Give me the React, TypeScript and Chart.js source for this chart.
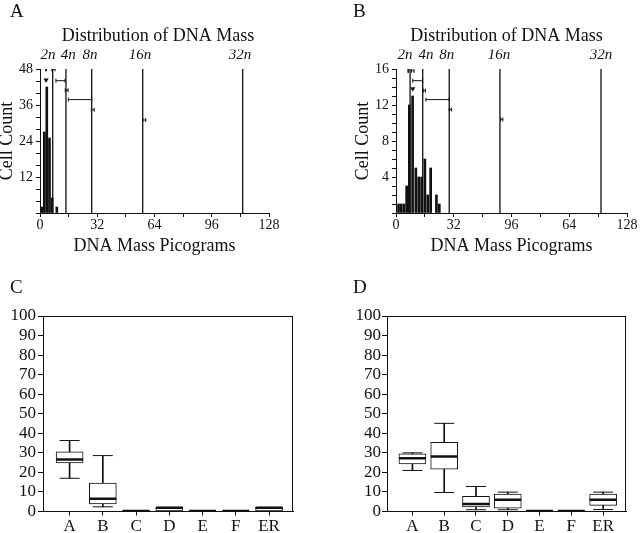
import React, { useEffect, useRef } from 'react';
import { Chart, registerables } from 'chart.js';
Chart.register(...registerables);

const FONT = "'Liberation Serif', 'Times New Roman', serif";
const INK = '#111';
Chart.defaults.font.family = FONT;
Chart.defaults.color = INK;

// ---------- Panel A : histogram ----------
const histA_x = [1.0, 2.4, 3.8, 5.3, 6.8, 9.4];
const histA_count = [2, 27, 42, 25, 5, 2];
const ploidyA = [7.1, 14.5, 28.9, 57.4, 113.3];
const ploidyLabelPosA = [4.5, 15.8, 28.0, 55.9, 111.8];
const errA_lo = [3.2, 6.6, 8.9, 14.1, 15.8, 28.7, 57.5];
const errA_hi = [3.6, 8.4, 14.0, 15.7, 28.9, 30.3, 59.1];
const errA_y = [47.9, 47.9, 44.1, 40.9, 37.8, 34.4, 31.0];
const peakA_x = [3.4];
const peakA_y = [44.3];

// ---------- Panel B : histogram ----------
const histB_x = [1.4, 2.9, 4.4, 5.9, 7.4, 9.2, 11.0, 12.6, 14.2, 16.0, 17.6, 19.2, 22.4, 24.0];
const histB_count = [1, 1, 1, 3, 12, 13, 5, 4, 4, 6, 2, 5, 2, 1];
const ploidyB = [7.8, 14.8, 29.5, 57.6, 113.6];
const ploidyLabelPosB = [5.0, 16.6, 28.1, 57.1, 113.6];
const errB_lo = [6.6, 8.5, 9.3, 15.1, 16.6, 29.5, 58.0];
const errB_hi = [7.0, 10.0, 14.8, 16.3, 29.5, 30.7, 59.2];
const errB_y = [15.8, 15.8, 14.7, 13.6, 12.6, 11.5, 10.4];
const peakB_x = [9.3];
const peakB_y = [13.8];

const ploidyLabels = ['2n', '4n', '8n', '16n', '32n'];
const xLabelsA = ['0', '32', '64', '96', '128'];
const xLabelsB = ['0', '32', '96', '64', '128'];

// ---------- Panels C, D : box plots ----------
const boxCats = ['A', 'B', 'C', 'D', 'E', 'F', 'ER'];
const C_min = [17.0, 2.4, 0.0, 0.0, 0.3, 0.3, 0.0];
const C_q1 = [24.9, 3.9, 0.2, 0.3, 0.3, 0.3, 0.3];
const C_med = [26.6, 6.5, 0.3, 1.9, 0.3, 0.3, 1.9];
const C_q3 = [30.5, 14.5, 0.5, 2.1, 0.3, 0.3, 2.1];
const C_max = [36.3, 28.6, 0.5, 2.1, 0.3, 0.3, 2.1];

const D_min = [21.0, 9.7, 0.9, 0.9, 0.3, 0.3, 1.0];
const D_q1 = [24.4, 21.6, 2.4, 1.7, 0.3, 0.3, 3.1];
const D_med = [27.3, 28.1, 3.9, 6.0, 0.3, 0.3, 6.0];
const D_q3 = [29.5, 35.4, 7.7, 8.9, 0.3, 0.3, 8.9];
const D_max = [30.0, 45.1, 12.8, 9.9, 0.3, 0.3, 9.9];

function histConfig(o: any) {
  const yTop = o.yMax;
  return {
    type: 'bar',
    data: {
      datasets: [
        {
          type: 'bar',
          data: o.xs.map((x: number, i: number) => ({ x, y: o.counts[i] })),
          backgroundColor: INK,
          barThickness: 2,
          order: 3,
        },
        {
          type: 'line',
          data: o.ploidy.flatMap((p: number) => [
            { x: p, y: 0 },
            { x: p, y: yTop },
            { x: p, y: null },
          ]),
          borderColor: INK,
          borderWidth: 1.3,
          pointRadius: 0,
          spanGaps: false,
          order: 2,
        },
        {
          type: 'line',
          data: o.errLo.flatMap((lo: number, i: number) => [
            { x: lo, y: o.errY[i] },
            { x: o.errHi[i], y: o.errY[i] },
            { x: o.errHi[i], y: null },
          ]),
          borderColor: INK,
          borderWidth: 1,
          pointStyle: 'line',
          pointRotation: 90,
          pointRadius: 2,
          pointBorderWidth: 1,
          pointBorderColor: INK,
          spanGaps: false,
          order: 1,
        },
        {
          type: 'line',
          data: o.peakX.map((x: number, i: number) => ({ x, y: o.peakY[i] })),
          showLine: false,
          pointStyle: 'triangle',
          pointRotation: 180,
          pointRadius: 3,
          pointBackgroundColor: INK,
          pointBorderColor: INK,
          pointBorderWidth: 0,
          order: 0,
        },
      ],
    },
    options: {
      responsive: false,
      animation: false,
      events: [],
      layout: { padding: 0 },
      plugins: {
        legend: { display: false },
        tooltip: { enabled: false },
        title: {
          display: true,
          text: 'Distribution of DNA Mass',
          color: INK,
          font: { size: 18, weight: 'normal' },
          padding: { top: 25, bottom: 3 },
        },
      },
      scales: {
        x: {
          type: 'linear',
          position: 'bottom',
          min: 0,
          max: 128,
          offset: false,
          afterFit: (s: any) => { s.height = 49; },
          grid: { display: true, drawOnChartArea: false, offset: false, tickLength: 4, color: INK },
          border: { display: true, color: INK, width: 1 },
          ticks: {
            stepSize: 16,
            autoSkip: false,
            maxRotation: 0,
            padding: 0,
            color: INK,
            font: { size: 14 },
            callback: (v: any) => (v % 32 === 0 ? o.xLabels[v / 32] : ''),
          },
          title: {
            display: true,
            text: 'DNA Mass Picograms',
            color: INK,
            font: { size: 18 },
            padding: { top: 0, bottom: 5 },
          },
        },
        x2: {
          type: 'linear',
          position: 'top',
          min: 0,
          max: 128,
          offset: false,
          afterFit: (s: any) => { s.height = 19.4; },
          afterBuildTicks: (s: any) => { s.ticks = o.labelPos.map((v: number) => ({ value: v })); },
          grid: { display: false, drawTicks: false, offset: false },
          border: { display: false },
          ticks: {
            autoSkip: false,
            maxRotation: 0,
            padding: 5,
            color: INK,
            font: { size: 15, style: 'italic' },
            callback: (_v: any, i: number) => ploidyLabels[i],
          },
        },
        y: {
          type: 'linear',
          position: 'left',
          min: 0,
          max: o.yMax,
          afterFit: (s: any) => { s.width = 42; },
          grid: { display: true, drawOnChartArea: false, tickLength: 4, color: INK },
          border: { display: true, color: INK, width: 1 },
          ticks: {
            stepSize: o.yStep,
            autoSkip: false,
            padding: 3,
            color: INK,
            font: { size: 14 },
            callback: (v: any) => (v !== 0 && v % o.yLabelEvery === 0 ? String(v) : ''),
          },
          title: {
            display: true,
            text: 'Cell Count',
            color: INK,
            font: { size: 18, lineHeight: 1 },
            padding: { top: 0, bottom: 0 },
          },
        },
        ySpace: {
          type: 'linear',
          position: 'right',
          min: 0,
          max: 1,
          afterFit: (s: any) => { s.width = o.rightSpace; },
          grid: { display: false, drawTicks: false },
          border: { display: false },
          ticks: { display: false },
        },
      },
    },
  };
}

const framePlugin = {
  id: 'frame',
  afterDraw(chart: any) {
    const { ctx, chartArea: a } = chart;
    ctx.save();
    ctx.strokeStyle = INK;
    ctx.lineWidth = 1;
    ctx.strokeRect(Math.round(a.left) + 0.5, Math.round(a.top) + 0.5, Math.round(a.right - a.left) - 1, Math.round(a.bottom - a.top) - 1);
    ctx.restore();
  },
};

function boxConfig(o: any) {
  const pts = (arr: number[]) => arr.map((v, i) => ({ x: i, y: v }));
  return {
    type: 'bar',
    data: {
      datasets: [
        {
          type: 'bar',
          data: o.min.map((v: number, i: number) => ({ x: i, y: [v, o.max[i]] })),
          backgroundColor: INK,
          barThickness: 1,
          grouped: false,
          order: 4,
        },
        {
          type: 'bar',
          data: o.q1.map((v: number, i: number) => ({ x: i, y: [v, o.q3[i]] })),
          backgroundColor: '#fff',
          borderColor: INK,
          borderWidth: 1,
          borderSkipped: false,
          barThickness: 27,
          grouped: false,
          order: 3,
        },
        {
          type: 'line',
          data: [...pts(o.min), ...pts(o.max)],
          showLine: false,
          pointStyle: 'line',
          pointRadius: 10,
          pointBorderWidth: 1,
          pointBorderColor: INK,
          order: 2,
        },
        {
          type: 'line',
          data: pts(o.med),
          showLine: false,
          pointStyle: 'line',
          pointRadius: 13.5,
          pointBorderWidth: 2.5,
          pointBorderColor: INK,
          order: 1,
        },
      ],
    },
    plugins: [framePlugin],
    options: {
      responsive: false,
      animation: false,
      events: [],
      layout: { padding: { left: 0, right: o.rightPad, top: 26, bottom: 0 } },
      plugins: { legend: { display: false }, tooltip: { enabled: false } },
      scales: {
        x: {
          type: 'linear',
          min: -0.8,
          max: 6.72,
          offset: false,
          afterFit: (s: any) => { s.height = 21.5; },
          afterBuildTicks: (s: any) => { s.ticks = boxCats.map((_c, i) => ({ value: i })); },
          grid: { display: true, drawOnChartArea: false, offset: false, tickLength: 4, color: INK },
          border: { display: true, color: INK, width: 1 },
          ticks: {
            autoSkip: false,
            maxRotation: 0,
            padding: 1,
            color: INK,
            font: { size: 17 },
            callback: (_v: any, i: number) => boxCats[i],
          },
        },
        y: {
          type: 'linear',
          min: 0,
          max: 100,
          afterFit: (s: any) => { s.width = o.yWidth; },
          grid: { display: true, drawOnChartArea: false, tickLength: 5, color: INK },
          border: { display: true, color: INK, width: 1 },
          ticks: { stepSize: 10, autoSkip: false, padding: o.yPad, color: INK, font: { size: 17 } },
        },
      },
    },
  };
}

function ChartBox({ left, top, width, height, make }: any) {
  const ref = useRef<HTMLCanvasElement>(null);
  useEffect(() => {
    const chart = new Chart(ref.current as HTMLCanvasElement, make());
    return () => chart.destroy();
  }, []);
  return (
    <canvas
      ref={ref}
      width={width}
      height={height}
      style={{ position: 'absolute', left, top, width, height }}
    />
  );
}

const letterStyle: any = {
  position: 'absolute',
  fontFamily: FONT,
  fontSize: 19,
  lineHeight: '19px',
  color: INK,
};

export default function App() {
  return (
    <div style={{ position: 'absolute', left: 0, top: 0, width: 642, height: 533, overflow: 'hidden', background: '#fff' }}>
      <ChartBox
        left={-2}
        top={0}
        width={320}
        height={262}
        make={() =>
          histConfig({
            xs: histA_x, counts: histA_count, ploidy: ploidyA, labelPos: ploidyLabelPosA, yMax: 48, yStep: 4, yLabelEvery: 12,
            xLabels: xLabelsA, errLo: errA_lo, errHi: errA_hi, errY: errA_y, peakX: peakA_x, peakY: peakA_y,
            rightSpace: 49,
          })
        }
      />
      <ChartBox
        left={354}
        top={0}
        width={305}
        height={262}
        make={() =>
          histConfig({
            xs: histB_x, counts: histB_count, ploidy: ploidyB, labelPos: ploidyLabelPosB, yMax: 16, yStep: 1, yLabelEvery: 4,
            xLabels: xLabelsB, errLo: errB_lo, errHi: errB_hi, errY: errB_y, peakX: peakB_x, peakY: peakB_y,
            rightSpace: 32,
          })
        }
      />
      <ChartBox
        left={0}
        top={290}
        width={320}
        height={243}
        make={() => boxConfig({ min: C_min, q1: C_q1, med: C_med, q3: C_q3, max: C_max, rightPad: 27, yWidth: 43, yPad: 2 })}
      />
      <ChartBox
        left={340}
        top={290}
        width={302}
        height={243}
        make={() => boxConfig({ min: D_min, q1: D_q1, med: D_med, q3: D_q3, max: D_max, rightPad: 7, yWidth: 47, yPad: 1 })}
      />
      <div style={{ ...letterStyle, left: 10, top: 1 }}>A</div>
      <div style={{ ...letterStyle, left: 353, top: 1 }}>B</div>
      <div style={{ ...letterStyle, left: 10, top: 277 }}>C</div>
      <div style={{ ...letterStyle, left: 353, top: 277 }}>D</div>
    </div>
  );
}
